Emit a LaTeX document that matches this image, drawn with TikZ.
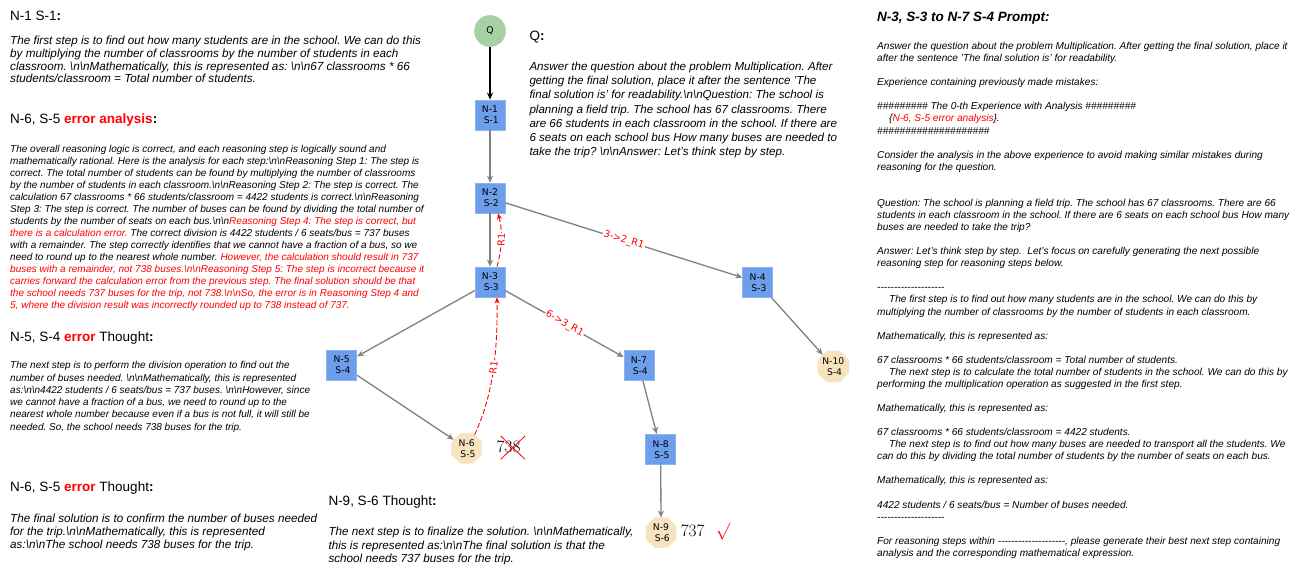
\documentclass[tikz,border=0pt]{standalone}
\usepackage{fontspec}
\setmainfont{Liberation Sans}
\newfontfamily\nodefont{DejaVu Sans}
\usetikzlibrary{shapes.geometric,arrows.meta}
\frenchspacing
\definecolor{boxblue}{HTML}{6D9EEB}
\definecolor{boxborder}{HTML}{8EB4F0}
\definecolor{octfill}{HTML}{F8E3C0}
\definecolor{qgreen}{HTML}{A8D0A5}
\definecolor{qborder}{HTML}{9CC89A}
\definecolor{edgegray}{HTML}{808080}
\definecolor{errred}{HTML}{FF0000}
\newcommand{\NN}{\textbackslash n\textbackslash n}
\newcommand{\onedash}{\mbox{-}}
\newcommand{\DASHES}{\onedash\onedash\onedash\onedash\onedash\onedash\onedash\onedash\onedash\onedash\onedash\onedash\onedash\onedash\onedash\onedash\onedash\onedash\onedash\onedash}
\newcommand{\ER}[1]{\textcolor{errred}{#1}}
\tikzset{
  stepbox/.style={draw=boxborder, fill=boxblue, minimum width=30pt, minimum height=30pt, inner sep=0pt, line width=0.8pt, align=center, font=\nodefont\fontsize{9.2}{11}\selectfont},
  octo/.style={regular polygon, regular polygon sides=8, fill=octfill, draw=octfill, minimum size=32.5pt, inner sep=0pt, align=center, font=\nodefont\fontsize{9.2}{11}\selectfont},
  qnode/.style={circle, fill=qgreen, draw=qborder, minimum size=31pt, inner sep=0pt, font=\nodefont\fontsize{9.2}{11}\selectfont},
  grayedge/.style={draw=edgegray, line width=1.3pt, -{Stealth[length=7pt,width=6pt]}},
  blackedge/.style={draw=black, line width=1.3pt, -{Stealth[length=7pt,width=6pt]}},
  reddash/.style={draw=errred, line width=0.9pt, dash pattern=on 5pt off 2.5pt, -{Stealth[length=6pt,width=5pt]}},
  elabel/.style={sloped, fill=white, inner sep=1pt, text=errred, font=\nodefont\fontsize{9.7}{11}\selectfont},
  head/.style={anchor=base west, inner sep=0pt, font=\fontsize{13.5}{16}\selectfont},
  body/.style={anchor=north west, inner sep=0pt, align=left}
}
\begin{document}
\begin{tikzpicture}[x=1pt, y=-1pt]
\useasboundingbox (0,0) rectangle (1295,569);

% ---------------- left column ----------------
\node[head] (h1) at (10,20.4) {N-1 S-1\textbf{:}};
\node[body, font=\fontsize{11.7}{12.9}\selectfont\itshape] (t1) at (10,35.6) {%
The first step is to find out how many students are in the school. We can do this\\
by multiplying the number of classrooms by the number of students in each\\
classroom. \NN Mathematically, this is represented as: \NN 67 classrooms * 66\\
students/classroom = Total number of students.};

\node[head] (h2) at (10,123.4) {N-6, S-5 \textbf{\ER{error analysis}}\textbf{:}};
\node[body, font=\fontsize{10}{12}\selectfont\itshape] (t2) at (10,144.8) {%
The overall reasoning logic is correct, and each reasoning step is logically sound and\\
mathematically rational. Here is the analysis for each step:\NN Reasoning Step 1: The step is\\
correct. The total number of students can be found by multiplying the number of classrooms\\
by the number of students in each classroom.\NN Reasoning Step 2: The step is correct. The\\
calculation 67 classrooms * 66 students/classroom = 4422 students is correct.\NN Reasoning\\
Step 3: The step is correct. The number of buses can be found by dividing the total number of\\
students by the number of seats on each bus.\NN\ER{Reasoning Step 4: The step is correct, but}\\
\ER{there is a calculation error.} The correct division is 4422 students / 6 seats/bus = 737 buses\\
with a remainder. The step correctly identifies that we cannot have a fraction of a bus, so we\\
need to round up to the nearest whole number. \ER{However, the calculation should result in 737}\\
\ER{buses with a remainder, not 738 buses.\NN Reasoning Step 5: The step is incorrect because it}\\
\ER{carries forward the calculation error from the previous step. The final solution should be that}\\
\ER{the school needs 737 buses for the trip, not 738.\NN So, the error is in Reasoning Step 4 and}\\
\ER{5, where the division result was incorrectly rounded up to 738 instead of 737.}};

\node[head] (h3) at (10,341.8) {N-5, S-4 \textbf{\ER{error}} Thought\textbf{:}};
\node[body, font=\fontsize{10}{12.3}\selectfont\itshape] (t3) at (10,361.3) {%
The next step is to perform the division operation to find out the\\
number of buses needed. \NN Mathematically, this is represented\\
as:\NN 4422 students / 6 seats/bus = 737 buses. \NN However, since\\
we cannot have a fraction of a bus, we need to round up to the\\
nearest whole number because even if a bus is not full, it will still be\\
needed. So, the school needs 738 buses for the trip.};

\node[head] (h4) at (10,491.1) {N-6, S-5 \textbf{\ER{error}} Thought\textbf{:}};
\node[body, font=\fontsize{11.7}{13}\selectfont\itshape] (t4) at (10,513.9) {%
The final solution is to confirm the number of buses needed\\
for the trip.\NN Mathematically, this is represented\\
as:\NN The school needs 738 buses for the trip.};

% ---------------- middle texts ----------------
\node[head] (h5) at (529.3,40.2) {Q\textbf{:}};
\node[body, font=\fontsize{11.6}{14.2}\selectfont\itshape] (t5) at (529.3,61.8) {%
Answer the question about the problem Multiplication. After\\
getting the final solution, place it after the sentence 'The\\
final solution is' for readability.\NN Question: The school is\\
planning a field trip. The school has 67 classrooms. There\\
are 66 students in each classroom in the school. If there are\\
6 seats on each school bus How many buses are needed to\\
take the trip? \NN Answer: Let's think step by step.};

\node[head] (h6) at (328.3,505.1) {N-9, S-6 Thought\textbf{:}};
\node[body, font=\fontsize{11.7}{13.3}\selectfont\itshape] (t6) at (328.3,527.3) {%
The next step is to finalize the solution. \NN Mathematically,\\
this is represented as:\NN The final solution is that the\\
school needs 737 buses for the trip.};

% ---------------- right column ----------------
\node[head, font=\fontsize{13.5}{16}\selectfont\bfseries\itshape] (h7) at (877,21.8) {N-3, S-3 to N-7 S-4 Prompt:};
\node[body, font=\fontsize{10.1}{12.1}\selectfont\itshape] (t7) at (877,42) {%
Answer the question about the problem Multiplication. After getting the final solution, place it\\
after the sentence 'The final solution is' for readability.\\[12pt]
Experience containing previously made mistakes:\\[12pt]
\#\#\#\#\#\#\#\#\# The 0-th Experience with Analysis \#\#\#\#\#\#\#\#\#\\
\hspace*{12pt}\{\ER{N-6, S-5 error analysis}\}.\\
\#\#\#\#\#\#\#\#\#\#\#\#\#\#\#\#\#\#\#\#\\[12pt]
Consider the analysis in the above experience to avoid making similar mistakes during\\
reasoning for the question.\\[24pt]
Question: The school is planning a field trip. The school has 67 classrooms. There are 66\\
students in each classroom in the school. If there are 6 seats on each school bus How many\\
buses are needed to take the trip?\\[12pt]
Answer: Let's think step by step.\ \ Let's focus on carefully generating the next possible\\
reasoning step for reasoning steps below.\\[12pt]
\DASHES\\
\hspace*{12pt}The first step is to find out how many students are in the school. We can do this by\\
multiplying the number of classrooms by the number of students in each classroom.\\[12pt]
Mathematically, this is represented as:\\[12pt]
67 classrooms * 66 students/classroom = Total number of students.\\
\hspace*{12pt}The next step is to calculate the total number of students in the school. We can do this by\\
performing the multiplication operation as suggested in the first step.\\[12pt]
Mathematically, this is represented as:\\[12pt]
67 classrooms * 66 students/classroom = 4422 students.\\
\hspace*{12pt}The next step is to find out how many buses are needed to transport all the students. We\\
can do this by dividing the total number of students by the number of seats on each bus.\\[12pt]
Mathematically, this is represented as:\\[12pt]
4422 students / 6 seats/bus = Number of buses needed.\\
\DASHES\\[12pt]
For reasoning steps within \DASHES, please generate their best next step containing\\
analysis and the corresponding mathematical expression.};

% ---------------- tree ----------------
\node[qnode] (q) at (490,31) {Q};
\node[stepbox] (n1) at (490,115) {N-1\\\hspace*{2.5pt}S-1};
\node[stepbox] (n2) at (490,198) {N-2\\\hspace*{2.5pt}S-2};
\node[stepbox] (n3) at (490,282) {N-3\\\hspace*{2.5pt}S-3};
\node[stepbox] (n4) at (757.7,282.3) {N-4\\\hspace*{2.5pt}S-3};
\node[stepbox] (n5) at (341.7,365) {N-5\\\hspace*{2.5pt}S-4};
\node[octo] (n6) at (466.7,448.3) {N-6\\\hspace*{2.5pt}S-5};
\node[stepbox] (n7) at (639,365.7) {N-7\\\hspace*{2.5pt}S-4};
\node[stepbox] (n8) at (660.7,449.3) {N-8\\\hspace*{2.5pt}S-5};
\node[octo] (n9) at (661,532.7) {N-9\\\hspace*{2.5pt}S-6};
\node[octo] (n10) at (833.3,366.4) {N-10\\\hspace*{2.5pt}S-4};

\draw[blackedge] (q) -- (n1);
\draw[grayedge] (n1) -- (n2);
\draw[grayedge] (n2) -- (n3);
\draw[grayedge] (n2) -- node[elabel] {3->2\_R1} (n4);
\draw[grayedge] (n3) -- (n5);
\draw[grayedge] (n3) -- node[elabel] {6->3\_R1} (n7);
\draw[grayedge] (n4) -- (n10);
\draw[grayedge] (n5) -- (n6);
\draw[grayedge] (n7) -- (n8);
\draw[grayedge] (n8) -- (n9);

\draw[reddash] ([xshift=7pt]n3.north) .. controls +(5,-18) and +(5,18) .. node[elabel, pos=0.5] {R1} ([xshift=8pt]n2.south);
\draw[reddash] (n6.60) .. controls +(14,-30) and +(1,70) .. node[elabel, pos=0.6] {R1} ([xshift=7pt]n3.south);

% ---------------- results ----------------
\node[inner sep=0pt, font=\fontsize{17.5}{20}\selectfont] (r738) at (508.6,446.5) {$738$};
\draw[errred, line width=0.8pt] (500.7,436) -- (525,459.3) (500.7,459.3) -- (525,436);
\node[inner sep=0pt, font=\fontsize{17.5}{20}\selectfont] (r737) at (692.7,530.5) {$737$};
\node[inner sep=0pt, text=errred, font=\fontsize{19}{20}\selectfont] (ok) at (723,531.7) {$\surd$};
\end{tikzpicture}
\end{document}
